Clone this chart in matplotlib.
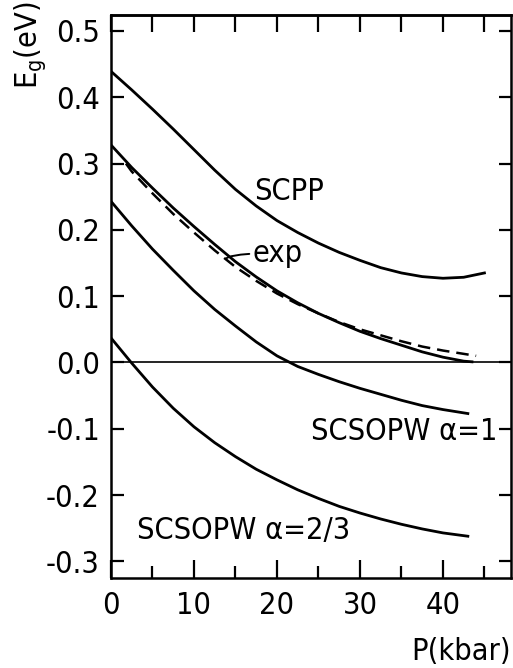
import matplotlib
matplotlib.use('Agg')
import matplotlib.pyplot as plt
from matplotlib.ticker import MultipleLocator, FormatStrFormatter, NullFormatter

plt.rcParams['font.family'] = ['DejaVu Sans']
plt.rcParams['font.stretch'] = 'condensed'
plt.rcParams['axes.unicode_minus'] = False
plt.rcParams['mathtext.fontset'] = 'custom'
plt.rcParams['mathtext.rm'] = 'DejaVu Sans'

# ---- data (P in kbar, Eg in eV) ----
p_scpp = [0, 2.5, 5, 7.5, 10, 12.5, 15, 17.5, 20, 22.5, 25, 27.5, 30, 32.5, 35, 37.5, 40, 42.5, 45]
e_scpp = [0.439, 0.411, 0.382, 0.352, 0.321, 0.290, 0.261, 0.236, 0.214, 0.196, 0.180, 0.166,
          0.154, 0.143, 0.135, 0.1295, 0.127, 0.1285, 0.135]

p_theo = [0, 2.5, 5, 7.5, 10, 12.5, 15, 17.5, 20, 22.5, 25, 27.5, 30, 32.5, 35, 37.5, 40, 42.5, 43.5]
e_theo = [0.328, 0.294, 0.263, 0.233, 0.205, 0.178, 0.152, 0.129, 0.108, 0.090, 0.074, 0.060,
          0.047, 0.036, 0.026, 0.016, 0.008, 0.002, 0.001]

p_exp = [1.8, 2.5, 5, 7.5, 10, 12.5, 15, 17.5, 20, 22.5, 25, 27.5, 30, 32.5, 35, 37.5, 40, 42.5, 44]
e_exp = [0.300, 0.288, 0.255, 0.224, 0.196, 0.169, 0.144, 0.123, 0.104, 0.088, 0.074, 0.061,
         0.050, 0.041, 0.032, 0.024, 0.018, 0.013, 0.010]

p_a1 = [0, 2.5, 5, 7.5, 10, 12.5, 15, 17.5, 20, 22.5, 25, 27.5, 30, 32.5, 35, 37.5, 40, 43]
e_a1 = [0.243, 0.206, 0.171, 0.139, 0.108, 0.080, 0.055, 0.031, 0.010, -0.006, -0.018, -0.029,
        -0.039, -0.048, -0.057, -0.065, -0.071, -0.077]

p_a23 = [0, 2.5, 5, 7.5, 10, 12.5, 15, 17.5, 20, 22.5, 25, 27.5, 30, 32.5, 35, 37.5, 40, 43]
e_a23 = [0.037, -0.001, -0.037, -0.069, -0.097, -0.121, -0.142, -0.161, -0.177, -0.192, -0.205,
         -0.217, -0.227, -0.236, -0.244, -0.251, -0.257, -0.262]

FS = 22
LW = 2.0

fig = plt.figure(figsize=(5.13, 6.68), dpi=100)
ax = fig.add_axes([111 / 513, 1 - 578 / 668, (511 - 111) / 513, (578 - 15) / 668])

ax.axhline(0, color='black', lw=1.2, zorder=1)
ax.plot(p_scpp, e_scpp, color='black', lw=LW, solid_joinstyle='round')
ax.plot(p_theo, e_theo, color='black', lw=LW, solid_joinstyle='round')
ax.plot(p_exp, e_exp, color='black', lw=1.8, dashes=(5, 2.8))
ax.plot(p_a1, e_a1, color='black', lw=LW, solid_joinstyle='round')
ax.plot(p_a23, e_a23, color='black', lw=LW, solid_joinstyle='round')

ax.set_xlim(0, 48.2)
ax.set_ylim(-0.325, 0.524)

ax.xaxis.set_major_locator(MultipleLocator(10))
ax.xaxis.set_minor_locator(MultipleLocator(5))
ax.xaxis.set_major_formatter(FormatStrFormatter('%d'))
ax.yaxis.set_major_locator(MultipleLocator(0.1))
ax.yaxis.set_major_formatter(FormatStrFormatter('%.1f'))

ax.tick_params(axis='x', which='major', direction='in', length=13, width=1.6, pad=9,
               labelsize=FS, top=False)
ax.tick_params(axis='x', which='minor', direction='in', length=9, width=1.6, top=False)
ax.tick_params(axis='y', which='major', direction='in', length=9, width=1.6, pad=8,
               labelsize=FS, right=True)

secax = ax.secondary_xaxis('top')
secax.xaxis.set_major_locator(MultipleLocator(5))
secax.xaxis.set_major_formatter(NullFormatter())
secax.tick_params(direction='in', length=12, width=1.6)

for s in ax.spines.values():
    s.set_linewidth(1.8)
for s in secax.spines.values():
    s.set_linewidth(1.8)

ax.text(17.2, 0.245, 'SCPP', fontsize=FS, va='baseline', ha='left')
ax.annotate('exp', xy=(13.9, 0.157), xytext=(17.0, 0.152), fontsize=FS, va='baseline', ha='left',
            arrowprops=dict(arrowstyle='-', lw=1.4, color='black', shrinkA=0, shrinkB=0,
                            connectionstyle='angle3,angleA=0,angleB=40'))
ax.text(24.1, -0.1164, 'SCSOPW α=1', fontsize=FS, va='baseline', ha='left')
ax.text(3.1, -0.2655, 'SCSOPW α=2/3', fontsize=FS, va='baseline', ha='left')

fig.text(30 / 513, 1 - 2 / 668, r'E$_{\mathrm{g}}$(eV)', rotation=90, ha='center', va='top', fontsize=FS)
fig.text(511 / 513, 1 - 651 / 668, 'P(kbar)', ha='right', va='center', fontsize=FS)

fig.savefig('out.png', dpi=100)
